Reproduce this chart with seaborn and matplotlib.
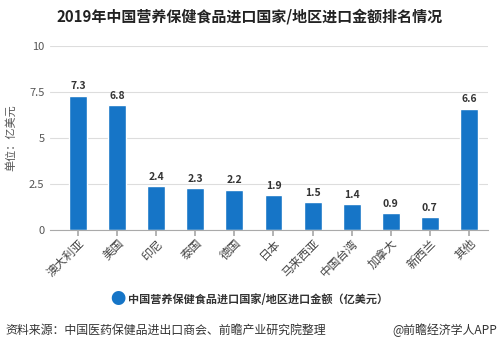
import matplotlib
matplotlib.use("Agg")
import matplotlib.pyplot as plt
import seaborn as sns
import pandas as pd

categories = ["澳大利亚", "美国", "印尼", "泰国", "德国", "日本", "马来西亚", "中国台湾", "加拿大", "新西兰", "其他"]
values = [7.3, 6.8, 2.4, 2.3, 2.2, 1.9, 1.5, 1.4, 0.9, 0.7, 6.6]
yticks = [0, 2.5, 5, 7.5, 10]
ytick_labels = ["0", "2.5", "5", "7.5", "10"]
series_name = "中国营养保健食品进口国家/地区进口金额（亿美元）"
title = "2019年中国营养保健食品进口国家/地区进口金额排名情况"
ylabel = "单位：亿美元"
source = "资料来源：中国医药保健品进出口商会、前瞻产业研究院整理"
credit = "@前瞻经济学人APP"

sns.set_theme(style="white")
plt.rcParams['font.family'] = ['Noto Sans CJK SC', 'DejaVu Sans']

df = pd.DataFrame({"cat": categories, "val": values})
fig = plt.figure(figsize=(5, 3.48), dpi=100)
ax = fig.add_axes([0.10, 0.339, 0.876, 0.529])
color = "#1675c7"
sns.barplot(data=df, x="cat", y="val", color=color, width=0.46, ax=ax, saturation=1)

ax.set_ylim(0, 10)
ax.set_xlim(-0.72, 10.49)
ax.set_yticks(yticks)
ax.set_yticklabels(ytick_labels, fontsize=8, color="#555555")
ax.yaxis.grid(True, color="#dddddd", linewidth=0.8)
ax.set_axisbelow(True)
for s in ["top", "right", "left"]:
    ax.spines[s].set_visible(False)
ax.spines["bottom"].set_color("#aaaaaa")
ax.spines["bottom"].set_linewidth(0.8)
ax.tick_params(axis="y", length=0, pad=4)
ax.tick_params(axis="x", length=4, color="#aaaaaa", direction="out", bottom=True, pad=1)
ax.set_xticks(range(len(categories)))
ax.set_xticklabels(categories, rotation=45, ha="right", rotation_mode="anchor", fontsize=8.5, color="#444444")
ax.set_xlabel("")
ax.set_ylabel(ylabel, fontsize=8, color="#555555", labelpad=9)

for c in ax.containers:
    ax.bar_label(c, labels=[f"{v:.1f}" for v in values], padding=3, fontsize=7.5,
                 fontweight="bold", color="#333333")

fig.text(0.5, 0.952, title, ha="center", va="center", fontsize=10.8, fontweight="bold", color="#222222")

# legend
fig.text(0.235, 0.138, "●", ha="center", va="center", fontsize=11, color=color)
fig.text(0.256, 0.138, series_name, ha="left", va="center", fontsize=8, fontweight="bold", color="#333333")

fig.text(0.01, 0.052, source, ha="left", va="center", fontsize=8.6, color="#333333")
fig.text(0.995, 0.052, credit, ha="right", va="center", fontsize=8.6, color="#333333")

fig.savefig("out.png", dpi=100, facecolor="white")
